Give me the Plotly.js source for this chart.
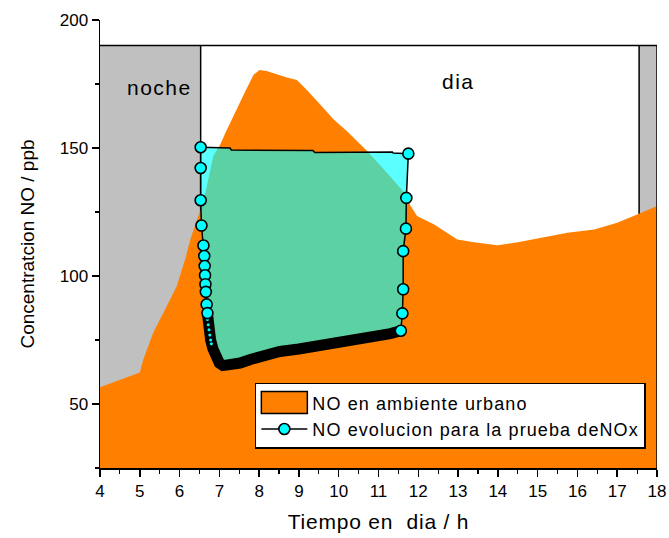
<!DOCTYPE html>
<html>
<head>
<meta charset="utf-8">
<script src="https://cdn.plot.ly/plotly-3.0.1.min.js"></script>
<style>
html,body{margin:0;padding:0;background:#fff;}
#chart{width:669px;height:538px;}
.legendtext{letter-spacing:1.1px;}
.annotation-text{letter-spacing:1.5px;}
.xtitle{letter-spacing:0.8px;}
</style>
</head>
<body>
<div id="chart"></div>
<script>
// NO in urban environment (orange area)
const urbanX = [4.0, 5.0, 5.09, 5.34, 5.68, 5.93, 6.14, 6.27, 6.44, 6.52, 6.6, 6.85, 7.02, 7.15, 7.36, 7.61, 7.86, 8.01, 8.19, 8.49, 8.7, 8.95, 9.2, 9.54, 9.88, 10.21, 10.55, 10.72, 11.2, 11.68, 11.8, 11.97, 12.4, 12.98, 13.4, 13.99, 14.5, 15.08, 15.75, 16.42, 17.0, 17.5, 18.0];
const urbanY = [56.5, 62.3, 67.5, 77.9, 88.3, 96.1, 106.5, 114.3, 122.1, 126, 129, 147, 151.3, 155.9, 163, 170.8, 178.6, 180.5, 180.1, 178.6, 177.5, 176.6, 172.7, 166.9, 161, 156.5, 151.3, 148.7, 140.5, 132, 127.5, 123.4, 120.1, 114.3, 113.2, 112, 113.2, 115, 116.9, 118.2, 120.8, 124, 127.3];

// deNOx test loop: left descending markers
const leftX = [6.53, 6.53, 6.53, 6.55, 6.6, 6.62, 6.63, 6.64, 6.65, 6.66, 6.68, 6.7];
const leftY = [150.3, 142.2, 129.6, 119.7, 111.9, 107.8, 103.9, 100.3, 96.8, 93.8, 88.9, 85.5];
// dense slow part of the evolution (bottom)
const bandX = [6.7, 6.72, 6.78, 6.84, 6.92, 7.0, 7.09, 7.3, 7.52, 7.8, 8.1, 8.52, 9.0, 9.36, 9.8, 10.2, 10.6, 11.03, 11.3, 11.56];
const bandY = [85.5, 80, 75, 71.5, 68, 66, 65, 65.3, 66, 67.5, 69, 70.5, 71.5, 72.3, 73.2, 74.3, 75.3, 76.5, 77.5, 78.6];
// small points inside the dense part
const dotsX = [6.7, 6.72, 6.74, 6.76, 6.78, 6.8];
const dotsY = [83, 81, 79, 77, 75, 73.5];
// right ascending markers
const rightX = [11.56, 11.6, 11.62, 11.62, 11.69, 11.7, 11.75];
const rightY = [78.6, 85.4, 94.8, 109.7, 118.5, 130.5, 147.8];
// top return line
const topX = [11.75, 11.37, 11.35, 9.4, 9.35, 7.3, 7.27, 6.53];
const topY = [147.8, 148.0, 148.4, 148.2, 149.0, 149.2, 150.0, 150.3];

// day / night frame
const nightEnd = 6.53;
const nightStart = 17.55;
const frameTop = 190;
const xRange = [4, 18];
const yRange = [25, 200];

const seriesNames = ['NO en ambiente urbano', 'NO evolucion para la prueba deNOx'];
const periodLabels = ['noche', 'dia'];
const periodLabelPos = [[5.5, 173.5], [13.0, 175.8]];

const loopX = leftX.concat(bandX, rightX, topX);
const loopY = leftY.concat(bandY, rightY, topY);

const markerStyle = {symbol: 'circle', size: 11, color: '#00ffff', line: {color: '#000', width: 1.6}};

const traces = [
  {x: urbanX, y: urbanY, type: 'scatter', mode: 'lines', fill: 'tozeroy', fillcolor: '#ff8000',
   line: {color: '#ff8000', width: 0, shape: 'linear'}, name: seriesNames[0], hoverinfo: 'skip'},
  {x: loopX, y: loopY, type: 'scatter', mode: 'lines', fill: 'toself', fillcolor: 'rgba(0,255,255,0.64)',
   line: {width: 0}, showlegend: false, hoverinfo: 'skip'},
  {x: bandX, y: bandY, type: 'scatter', mode: 'lines', line: {color: '#000', width: 11}, showlegend: false, hoverinfo: 'skip'},
  {x: topX, y: topY, type: 'scatter', mode: 'lines', line: {color: '#000', width: 1.5}, showlegend: false, hoverinfo: 'skip'},
  {x: dotsX, y: dotsY, type: 'scatter', mode: 'markers', marker: {size: 3, color: '#00ffff'}, showlegend: false, hoverinfo: 'skip'},
  {x: leftX, y: leftY, type: 'scatter', mode: 'lines+markers', line: {color: '#000', width: 1.5},
   marker: markerStyle, name: seriesNames[1]},
  {x: rightX, y: rightY, type: 'scatter', mode: 'lines+markers', line: {color: '#000', width: 1.5},
   marker: markerStyle, showlegend: false}
];

const font = 'Liberation Sans, Arial, sans-serif';

const layout = {
  width: 669, height: 538,
  margin: {l: 100, r: 12, t: 20, b: 70},
  paper_bgcolor: '#fff', plot_bgcolor: '#fff',
  showlegend: true,
  font: {family: font, color: '#000', size: 16},
  xaxis: {
    range: xRange, dtick: 1, tick0: 0, showgrid: false, zeroline: false,
    showline: true, linecolor: '#000', linewidth: 1.5,
    ticks: 'outside', ticklen: 7, tickwidth: 1.5, tickcolor: '#000',
    minor: {dtick: 0.5, ticks: 'outside', ticklen: 4, tickwidth: 1.2, tickcolor: '#000'},
    tickfont: {family: font, size: 17, color: '#000'},
    title: {text: 'Tiempo en  dia / h', font: {family: font, size: 21, color: '#000'}, standoff: 14}
  },
  yaxis: {
    range: yRange, dtick: 50, tick0: 0, showgrid: false, zeroline: false,
    showline: true, linecolor: '#000', linewidth: 1.5,
    ticks: 'outside', ticklen: 7, tickwidth: 1.5, tickcolor: '#000',
    minor: {dtick: 25, ticks: 'outside', ticklen: 4, tickwidth: 1.2, tickcolor: '#000'},
    tickfont: {family: font, size: 17, color: '#000'},
    title: {text: 'Concentratcion NO / ppb', font: {family: font, size: 19, color: '#000'}, standoff: 20}
  },
  legend: {
    x: 0.278, y: 0.19, xanchor: 'left', yanchor: 'top',
    bgcolor: '#fff', bordercolor: '#000', borderwidth: 1.5,
    font: {family: font, size: 18, color: '#000'},
    itemwidth: 46, tracegroupgap: 0
  },
  shapes: [
    {type: 'rect', xref: 'x', yref: 'y', x0: xRange[0], x1: nightEnd, y0: yRange[0], y1: frameTop,
     fillcolor: '#c0c0c0', line: {width: 0}, layer: 'below'},
    {type: 'rect', xref: 'x', yref: 'y', x0: nightStart, x1: xRange[1], y0: yRange[0], y1: frameTop,
     fillcolor: '#c0c0c0', line: {width: 0}, layer: 'below'},
    {type: 'line', xref: 'x', yref: 'y', x0: xRange[0], x1: xRange[1], y0: frameTop, y1: frameTop,
     line: {color: '#000', width: 1.5}, layer: 'below'},
    {type: 'line', xref: 'x', yref: 'y', x0: nightEnd, x1: nightEnd, y0: yRange[0], y1: frameTop,
     line: {color: '#000', width: 1.5}, layer: 'below'},
    {type: 'line', xref: 'x', yref: 'y', x0: nightStart, x1: nightStart, y0: yRange[0], y1: frameTop,
     line: {color: '#000', width: 1.5}, layer: 'below'},
    {type: 'line', xref: 'x', yref: 'y', x0: xRange[1], x1: xRange[1], y0: yRange[0], y1: frameTop,
     line: {color: '#000', width: 1.5}, layer: 'above'}
  ],
  annotations: periodLabels.map((t, i) => ({
    text: t, x: periodLabelPos[i][0], y: periodLabelPos[i][1], xref: 'x', yref: 'y',
    showarrow: false, font: {family: font, size: 21, color: '#000'}
  }))
};

Plotly.newPlot('chart', traces, layout, {displayModeBar: false, staticPlot: true}).then(function (gd) {
  // make the area legend swatch a bordered box like the original
  const fills = gd.querySelectorAll('.legend .legendfill path');
  fills.forEach(function (p) {
    const bb = p.getBBox();
    if (bb.width > 0) {
      const w = bb.width;
      p.setAttribute('d', 'M' + bb.x + ',-11h' + w + 'v22h-' + w + 'z');
      p.style.stroke = '#000';
      p.style.strokeWidth = '1.5px';
      p.style.fill = '#ff8000';
    }
  });
});
</script>
</body>
</html>
